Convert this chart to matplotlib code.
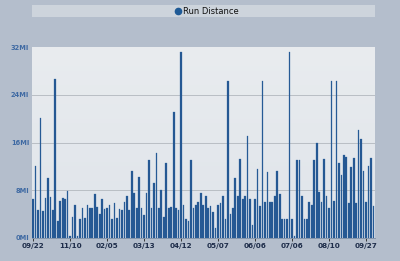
import numpy as np
import matplotlib
matplotlib.use("Agg")
import matplotlib.pyplot as plt
from matplotlib.patches import Rectangle
from matplotlib.lines import Line2D

distances = [
    6.6, 12.1, 4.7, 20.1, 4.6, 6.7, 10.1, 6.8, 4.7, 26.7,
    2.9, 6.2, 6.7, 6.6, 7.9, 0.4, 3.6, 5.6, 0.3, 3.1,
    5.1, 3.3, 5.5, 5.1, 5.1, 7.3, 5.2, 4.1, 6.6, 4.8,
    5.1, 5.5, 3.1, 5.9, 3.4, 4.9, 4.7, 6.1, 7.0, 4.7,
    11.2, 7.5, 5.1, 10.3, 5.0, 3.8, 7.6, 13.0, 5.1, 9.2,
    14.2, 5.1, 8.1, 3.6, 12.6, 5.1, 5.2, 21.1, 5.1, 4.7,
    31.2, 5.5, 3.1, 2.9, 13.1, 5.1, 5.5, 6.0, 7.6, 5.6,
    7.1, 5.1, 5.4, 4.3, 1.6, 5.6, 5.9, 7.1, 3.1, 26.3,
    4.1, 5.1, 10.1, 7.1, 13.2, 6.5, 7.1, 17.1, 6.5, 2.2,
    6.5, 11.6, 5.3, 26.3, 6.1, 11.1, 6.1, 6.1, 7.1, 11.2,
    7.3, 3.1, 3.1, 3.1, 31.2, 3.1, 0.4, 13.1, 13.1, 7.1,
    3.1, 3.1, 6.1, 5.6, 13.1, 16.0, 7.7, 6.1, 13.2, 7.1,
    5.1, 26.3, 6.2, 26.3, 12.6, 10.5, 13.9, 13.6, 5.8, 11.9,
    13.4, 5.9, 18.1, 16.6, 11.3, 6.0, 12.1, 13.4, 5.4,
]
tick_index = [0, 15, 30, 45, 60, 75, 90, 105, 120, 135]
tick_labels = ["09/22", "11/10", "02/05", "03/13", "04/12",
               "05/07", "06/06", "07/06", "08/10", "09/27"]
y_ticks = [0, 8, 16, 24, 32]
y_labels = ["0MI", "8MI", "16MI", "24MI", "32MI"]
series_name = "Run Distance"

W, H = 400, 261
fig = plt.figure(figsize=(W / 100, H / 100), dpi=100)
fig.patch.set_facecolor("#b4becc")

ax = fig.add_axes([32 / W, (H - 238) / H, 343 / W, 191 / H])
ax.set_facecolor("#e6eaee")

# gradient background
grad = np.linspace(0, 1, 256).reshape(-1, 1)
from matplotlib.colors import LinearSegmentedColormap
cm = LinearSegmentedColormap.from_list("g", ["#e9ecef", "#dfe4ea"])
ax.imshow(grad, aspect="auto", cmap=cm, extent=[0, 1, 0, 1],
          transform=ax.transAxes, zorder=0)

x = np.arange(len(distances))
ax.bar(x, distances, width=0.68, color="#245791", edgecolor="#2e64a0",
       linewidth=0.2, zorder=3)

ax.set_xlim(-0.45, len(distances) - 0.35)
ax.set_ylim(0, 32)
ax.set_yticks(y_ticks)
ax.set_yticklabels(y_labels)
ax.set_xticks(tick_index)
ax.set_xticklabels(tick_labels)

for v in y_ticks[1:-1]:
    ax.axhline(v, color="#b9bec4", linewidth=0.7, zorder=1)

for s in ax.spines.values():
    s.set_visible(False)
ax.spines["bottom"].set_visible(True)
ax.spines["bottom"].set_color("#7d8fa8")
ax.spines["bottom"].set_linewidth(0.6)

ax.tick_params(axis="y", length=0, pad=2, labelsize=4.8, labelcolor="#3f6aa3")
ax.tick_params(axis="x", length=2, width=0.6, color="#222222", pad=1.5,
               labelsize=5.2, labelcolor="#1e2d4a")
for lab in ax.get_xticklabels():
    lab.set_fontweight("bold")
for lab in ax.get_yticklabels():
    lab.set_fontweight("bold")

# legend band
fig.patches.append(Rectangle((32 / W, (H - 17) / H), 343 / W, 12 / H,
                             transform=fig.transFigure, facecolor="#cdd4dc",
                             edgecolor="none", zorder=1))
fig.lines.append(Line2D([178 / W], [(H - 11) / H], marker="o", markersize=4.5,
                        color="#1f5a96", transform=fig.transFigure))
fig.text(183 / W, (H - 11) / H, series_name, fontsize=6, color="#111111",
         va="center", ha="left")

fig.savefig("out.png", dpi=100, facecolor=fig.get_facecolor())
